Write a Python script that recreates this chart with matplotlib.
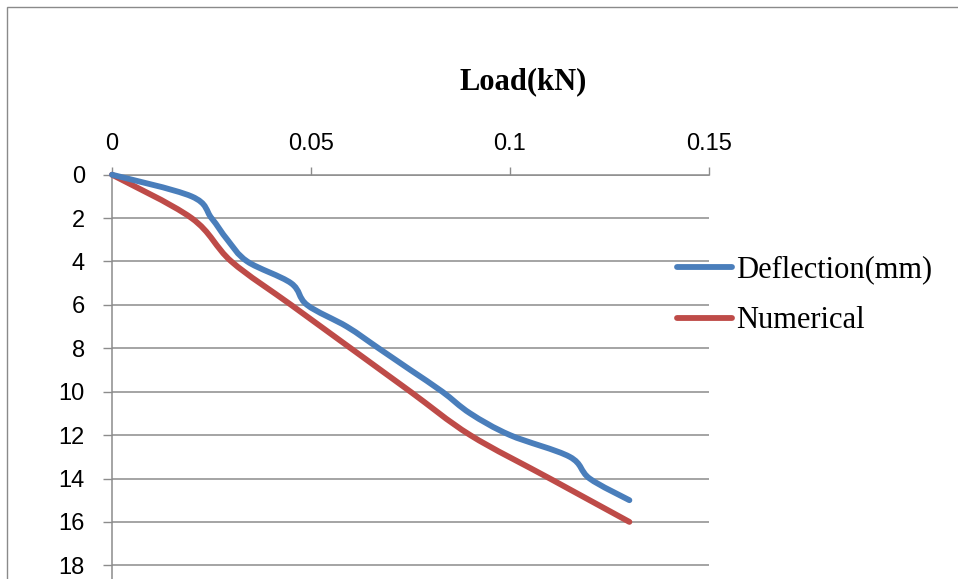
import matplotlib
matplotlib.use("Agg")
import matplotlib.pyplot as plt
from matplotlib.path import Path
from matplotlib.patches import PathPatch, Rectangle
from matplotlib.lines import Line2D
import numpy as np

# Measured load (kN) against deflection (mm)
deflection_mm = [0, 1, 2, 3, 4, 5, 6, 7, 8, 9, 10, 11, 12, 13, 14, 15]
deflection_load = [0, 0.020, 0.025, 0.029, 0.034, 0.045, 0.049, 0.059,
                   0.067, 0.075, 0.083, 0.090, 0.100, 0.115, 0.120, 0.130]

# Numerical model
numerical_mm = [0, 2, 4, 6, 8, 10, 12, 14, 16]
numerical_load = [0, 0.020, 0.030, 0.045, 0.060, 0.075, 0.090, 0.110, 0.130]

x_ticks = [0, 0.05, 0.1, 0.15]
x_tick_labels = ["0", "0.05", "0.1", "0.15"]
y_ticks = list(range(0, 19, 2))

series_names = ["Deflection(mm)", "Numerical"]
series_colors = ["#4A7EBB", "#BE4B48"]

W, H = 958, 579
fig = plt.figure(figsize=(W / 100, H / 100), dpi=100)

# outer chart frame
fig.patches.append(Rectangle((7 / W, -0.2), 1.2, 1.2 - 7 / H, transform=fig.transFigure,
                             fill=False, edgecolor="#8A8A8A", linewidth=1.0))

# plot area: x from 0 to 0.15, y from 0 (top) to 20 (runs off below)
left_px, right_px, top_px, unit_px = 112, 709, 174.7, 21.7
bottom_px = top_px + 20 * unit_px
ax = fig.add_axes([left_px / W, 1 - bottom_px / H,
                   (right_px - left_px) / W, (bottom_px - top_px) / H])
ax.set_xlim(0, 0.15)
ax.set_ylim(20, 0)


def smooth_path(xs, ys):
    """Bezier curve through the points, in the style of a smoothed line chart."""
    pts = np.column_stack([xs, ys]).astype(float)
    n = len(pts)
    verts = [pts[0]]
    codes = [Path.MOVETO]
    for i in range(n - 1):
        p0 = pts[i - 1] if i > 0 else pts[i]
        p1 = pts[i]
        p2 = pts[i + 1]
        p3 = pts[i + 2] if i + 2 < n else pts[i + 1]
        c1 = p1 + (p2 - p0) / 6.0
        c2 = p2 - (p3 - p1) / 6.0
        verts += [c1, c2, p2]
        codes += [Path.CURVE4] * 3
    return Path(verts, codes)


gridc = "#8C8C8C"
for yv in y_ticks + [20]:
    ax.axhline(yv, color=gridc, linewidth=1.1, zorder=1)

for xs, ys, c, z in [(deflection_load, deflection_mm, series_colors[0], 4),
                     (numerical_load, numerical_mm, series_colors[1], 3)]:
    patch = PathPatch(smooth_path(xs, ys), facecolor="none", edgecolor=c,
                      linewidth=4.2, capstyle="round", joinstyle="round", zorder=z)
    patch.set_clip_on(False)
    ax.add_patch(patch)

ax.xaxis.tick_top()
ax.set_xticks(x_ticks)
ax.set_xticklabels(x_tick_labels)
ax.set_yticks(y_ticks)
ax.tick_params(axis="x", which="both", direction="out", length=5.5, width=1.0,
               color=gridc, pad=9.0, labelsize=17, labelcolor="black")
ax.tick_params(axis="y", which="both", direction="out", length=6.5, width=1.0,
               color=gridc, pad=13.0, labelsize=17, labelcolor="black")
for lab in ax.get_xticklabels() + ax.get_yticklabels():
    lab.set_fontfamily(["Liberation Sans", "DejaVu Sans"])

for side in ["right", "bottom"]:
    ax.spines[side].set_visible(False)
for side in ["top", "left"]:
    ax.spines[side].set_color(gridc)
    ax.spines[side].set_linewidth(1.1)
ax.patch.set_alpha(0)

# chart title
fig.text(522.7 / W, 1 - 89.5 / H, "Load(kN)", ha="center", va="baseline",
         fontsize=22, fontweight="bold", family=["Liberation Serif", "DejaVu Serif"])

handles = [Line2D([], [], color=c, linewidth=4.2, solid_capstyle="round")
           for c in series_colors]
leg = ax.legend(handles, series_names, loc="center left",
                bbox_to_anchor=(676.7 / W, 1 - 295.5 / H), bbox_transform=fig.transFigure,
                frameon=False, borderpad=0, borderaxespad=0, handlelength=1.8,
                handletextpad=0.15, labelspacing=0.72,
                prop={"family": ["Liberation Serif", "DejaVu Serif"], "size": 22})

fig.savefig("out.png", dpi=100)
